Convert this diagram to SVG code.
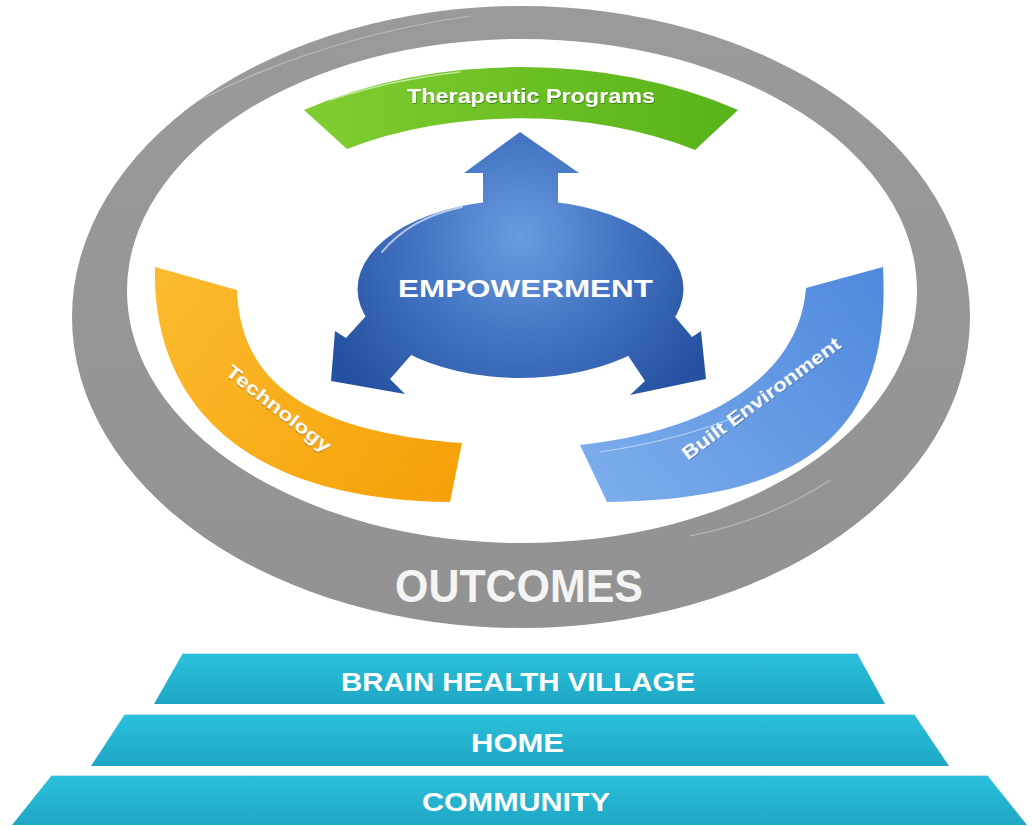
<svg xmlns="http://www.w3.org/2000/svg" width="1032" height="826" viewBox="0 0 1032 826">
  <style>
    .lbl { font-family: "Liberation Sans", Arial, sans-serif; font-weight: bold; fill: #ffffff; }
    .band-lbl { filter: url(#ts); }
    .tier { fill: url(#tierGrad); }
    .tier-edge { stroke: #bfe6ee; stroke-width: 1.2; fill: none; }
    .gloss { fill: none; stroke: #ffffff; stroke-linecap: round; }
  </style>
  <defs>
    <linearGradient id="ringGrad" x1="0" y1="0" x2="0" y2="1">
      <stop offset="0" stop-color="#9a9a9a"/>
      <stop offset="1" stop-color="#929292"/>
    </linearGradient>
    <linearGradient id="greenGrad" x1="304" y1="0" x2="738" y2="0" gradientUnits="userSpaceOnUse">
      <stop offset="0" stop-color="#80cd30"/>
      <stop offset="1" stop-color="#57b31a"/>
    </linearGradient>
    <linearGradient id="orangeGrad" x1="160" y1="280" x2="455" y2="500" gradientUnits="userSpaceOnUse">
      <stop offset="0" stop-color="#fbbb2e"/>
      <stop offset="1" stop-color="#f5a007"/>
    </linearGradient>
    <linearGradient id="blueBandGrad" x1="600" y1="500" x2="884" y2="270" gradientUnits="userSpaceOnUse">
      <stop offset="0" stop-color="#7cadec"/>
      <stop offset="1" stop-color="#4f88dc"/>
    </linearGradient>
    <radialGradient id="empGrad" cx="520" cy="238" r="215" gradientUnits="userSpaceOnUse">
      <stop offset="0" stop-color="#6b9ce0"/>
      <stop offset="0.45" stop-color="#4576c3"/>
      <stop offset="1" stop-color="#2451a0"/>
    </radialGradient>
    <linearGradient id="tierGrad" x1="0" y1="0" x2="0" y2="1">
      <stop offset="0" stop-color="#2cc0dc"/>
      <stop offset="1" stop-color="#1ea7c4"/>
    </linearGradient>
    <filter id="ts" x="-10%" y="-40%" width="120%" height="180%">
      <feDropShadow dx="0.6" dy="1" stdDeviation="0.6" flood-color="#000000" flood-opacity="0.35"/>
    </filter>
  </defs>

  <rect width="1032" height="826" fill="#ffffff"/>

  <!-- outer grey ring carrying the OUTCOMES label -->
  <g id="outcomes">
    <path fill="url(#ringGrad)" fill-rule="evenodd"
          d="M72,317 A449,311 0 1 0 970,317 A449,311 0 1 0 72,317 Z
             M127,291 A395,252 0 1 1 917,291 A395,252 0 1 1 127,291 Z"/>
    <path class="gloss" stroke-width="1.2" opacity="0.35" d="M200,100 Q320,38 470,16"/>
    <path class="gloss" stroke-width="1.2" opacity="0.35" d="M830,480 Q770,520 690,536"/>
    <text class="lbl" x="519" y="602" font-size="46" text-anchor="middle" textLength="248" lengthAdjust="spacingAndGlyphs" style="fill:#f4f4f4">OUTCOMES</text>
  </g>

  <!-- top band -->
  <g id="therapeutic-programs">
    <path fill="url(#greenGrad)" d="M304,110 A375,233 0 0 1 738,110 L695,150 A311,182 0 0 0 347,149 Z"/>
    <path class="gloss" stroke-width="1.5" opacity="0.55" d="M330,100 Q390,80 460,72"/>
    <text class="lbl band-lbl" x="407" y="103" font-size="19.5" textLength="248" lengthAdjust="spacingAndGlyphs">Therapeutic Programs</text>
  </g>

  <!-- left band -->
  <g id="technology">
    <path fill="url(#orangeGrad)" d="M155,267 C152,400 240,500 450,502 L462,443 C290,430 240,370 237,290 Z"/>
    <g transform="translate(279,408) rotate(38.2)">
      <text class="lbl band-lbl" x="0" y="6.5" font-size="18" text-anchor="middle" textLength="128" lengthAdjust="spacingAndGlyphs">Technology</text>
    </g>
  </g>

  <!-- right band -->
  <g id="built-environment">
    <path fill="url(#blueBandGrad)" d="M883,267 C891,420 820,500 607,502 L580,445 C720,430 800,370 806,288 Z"/>
    <path class="gloss" stroke-width="1.2" opacity="0.5" d="M600,452 Q680,440 740,415"/>
    <g transform="translate(761,398) rotate(-36.4)">
      <text class="lbl band-lbl" x="0" y="6.5" font-size="18" text-anchor="middle" textLength="192" lengthAdjust="spacingAndGlyphs">Built Environment</text>
    </g>
  </g>

  <!-- arrows leading out of the central hub -->
  <g id="connectors" fill="url(#empGrad)">
    <path d="M520,132 L579,173 L558,173 L558,215 L483,215 L483,173 L464,173 Z"/>
    <path d="M375,306 L346,338 L335,331 L331,381 L405,394 L390,379 L420,345 Z"/>
    <path d="M666,306 L692,337 L701,331 L706,379 L630,395 L645,381 L621,345 Z"/>
  </g>

  <!-- central hub -->
  <g id="empowerment">
    <ellipse cx="520.5" cy="289" rx="163" ry="89" fill="url(#empGrad)"/>
    <path class="gloss" stroke-width="2" opacity="0.6" d="M382,252 Q410,218 462,207"/>
    <text class="lbl" x="525.5" y="297" font-size="24" text-anchor="middle" textLength="255" lengthAdjust="spacingAndGlyphs">EMPOWERMENT</text>
  </g>

  <!-- foundation tiers -->
  <g id="tier-brain-health-village">
    <polygon class="tier" points="183,653 857,653 885,704 154,704"/>
    <line class="tier-edge" x1="183" y1="653.5" x2="857" y2="653.5"/>
    <text class="lbl" x="518" y="691" font-size="25" text-anchor="middle" textLength="354" lengthAdjust="spacingAndGlyphs">BRAIN HEALTH VILLAGE</text>
  </g>
  <g id="tier-home">
    <polygon class="tier" points="125,714 914,714 949,766 91,766"/>
    <line class="tier-edge" x1="125" y1="714.5" x2="914" y2="714.5"/>
    <text class="lbl" x="517.5" y="752" font-size="25" text-anchor="middle" textLength="93" lengthAdjust="spacingAndGlyphs">HOME</text>
  </g>
  <g id="tier-community">
    <polygon class="tier" points="52,775 987,775 1027,825 12,825"/>
    <line class="tier-edge" x1="52" y1="775.5" x2="987" y2="775.5"/>
    <text class="lbl" x="516" y="811" font-size="25" text-anchor="middle" textLength="188" lengthAdjust="spacingAndGlyphs">COMMUNITY</text>
  </g>
</svg>
